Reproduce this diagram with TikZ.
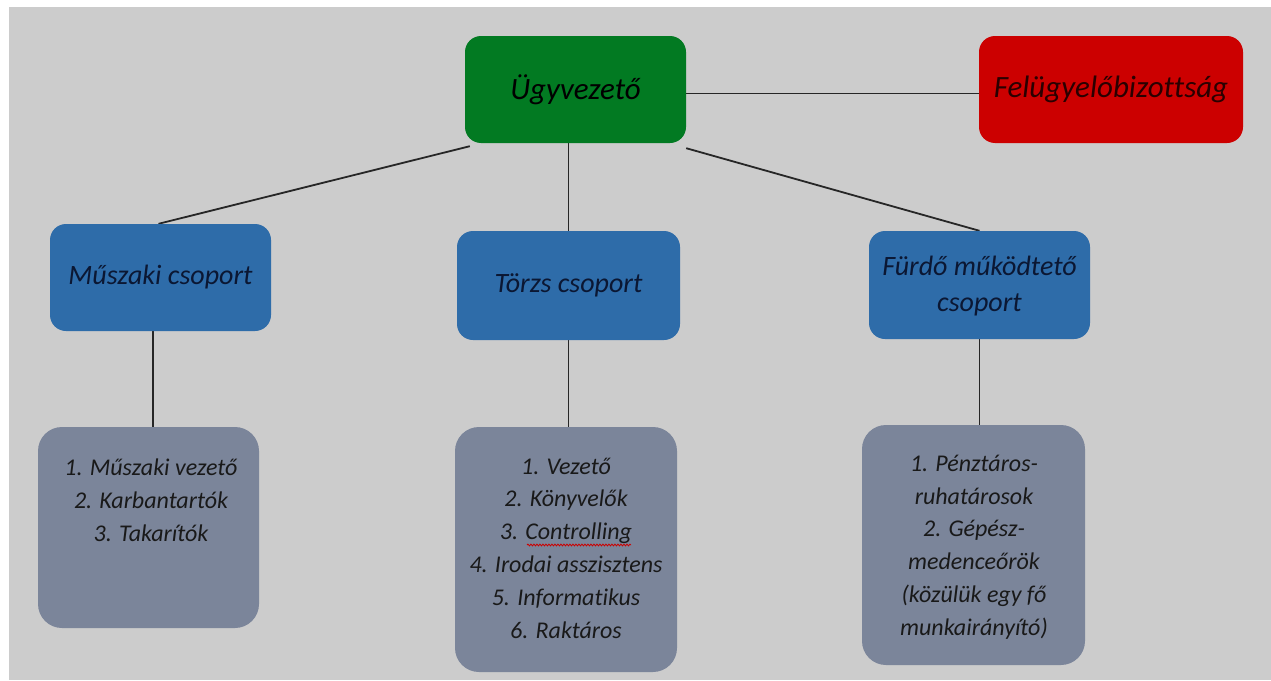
\documentclass[tikz,border=0pt]{standalone}
\usepackage{fontspec}
\setmainfont{Carlito}[Ligatures={NoCommon}]
\usetikzlibrary{backgrounds,decorations.pathmorphing}
\definecolor{bgc}{HTML}{CCCCCC}
\definecolor{ugreen}{HTML}{027A22}
\definecolor{ured}{HTML}{CC0000}
\definecolor{ublue}{HTML}{2E6CA9}
\definecolor{ugray}{HTML}{7B859A}
\definecolor{navytext}{HTML}{0B1733}
\definecolor{redtext}{HTML}{2A0000}
\begin{document}
\begin{tikzpicture}[x=1pt,y=-1pt,
  box/.style={draw=none, rounded corners=16pt, inner sep=0pt, align=center},
  topbox/.style={box, minimum height=107pt, font=\fontsize{31}{34}\selectfont\itshape},
  groupbox/.style={box, fill=ublue, text=navytext, font=\fontsize{28}{36}\selectfont\itshape},
  listbox/.style={box, fill=ugray, rounded corners=24pt},
  listtext/.style={inner sep=0pt, align=center, text=black!90, font=\fontsize{24}{32.8}\selectfont\itshape},
  conn/.style={draw=black!85, line width=1.8pt}]
\useasboundingbox (0,0) rectangle (1271,680);

% boxes
\node[topbox, fill=ugreen, text=black, minimum width=221pt] (ug) at (575.5,89.5) {Ügyvezető};
\node[topbox, fill=ured, text=redtext, minimum width=264pt] (fel) at (1111,89.5) {Felügyelőbizottság};

\node[groupbox, minimum width=221pt, minimum height=107pt] (musz) at (160.5,277.5) {Műszaki csoport};
\node[groupbox, minimum width=223pt, minimum height=109pt] (torzs) at (568.5,285.5) {Törzs csoport};
\node[groupbox, minimum width=221pt, minimum height=108pt, text depth=2pt] (furdo) at (979.5,285) {Fürdő működtető\\csoport};

\node[listbox, minimum width=221pt, minimum height=201pt] (mgray) at (148.5,527.5) {};
\node[listbox, minimum width=222pt, minimum height=245pt] (tgray) at (566,549.5) {};
\node[listbox, minimum width=223pt, minimum height=240pt] (fgray) at (973.5,545) {};

\node[listtext] (mtext) at (151,500) {1. Műszaki vezető\\2. Karbantartók\\3. Takarítók};
\node[listtext] (ttext) at (566,548) {1. Vezető\\2. Könyvelők\\3. Controlling\\4. Irodai asszisztens\\5. Informatikus\\6. Raktáros};
\node[listtext] (ftext) at (974,547) {1. Pénztáros-\\ruhatárosok\\2. Gépész-\\medenceőrök\\(közülük egy fő\\munkairányító)};

% spell-check underline
\coordinate (sqa) at (527,545);
\coordinate (sqb) at (631,545);
\draw[red!80!black, line width=0.8pt, decorate, decoration={snake, segment length=3pt, amplitude=0.9pt}] (sqa) -- (sqb);

\begin{pgfonlayer}{background}
  \fill[white] (0,0) rectangle (1271,680);
  \fill[bgc] (9,7) rectangle (1271,680);
  \draw[conn] ([yshift=-4pt]ug.east) -- ([yshift=-4pt]fel.west);
  \draw[conn] ([xshift=5pt,yshift=-3pt]ug.south west) -- ([xshift=-2pt]musz.north);
  \draw[conn] (torzs.north |- ug.south) -- (torzs.north);
  \draw[conn] ([yshift=-5pt]ug.south east) -- (furdo.north);
  \draw[conn] ([xshift=-7.5pt]musz.south) -- ([xshift=-7.5pt]musz.south |- mgray.north);
  \draw[conn] (torzs.south) -- (torzs.south |- tgray.north);
  \draw[conn] (furdo.south) -- (furdo.south |- fgray.north);
\end{pgfonlayer}
\end{tikzpicture}
\end{document}
